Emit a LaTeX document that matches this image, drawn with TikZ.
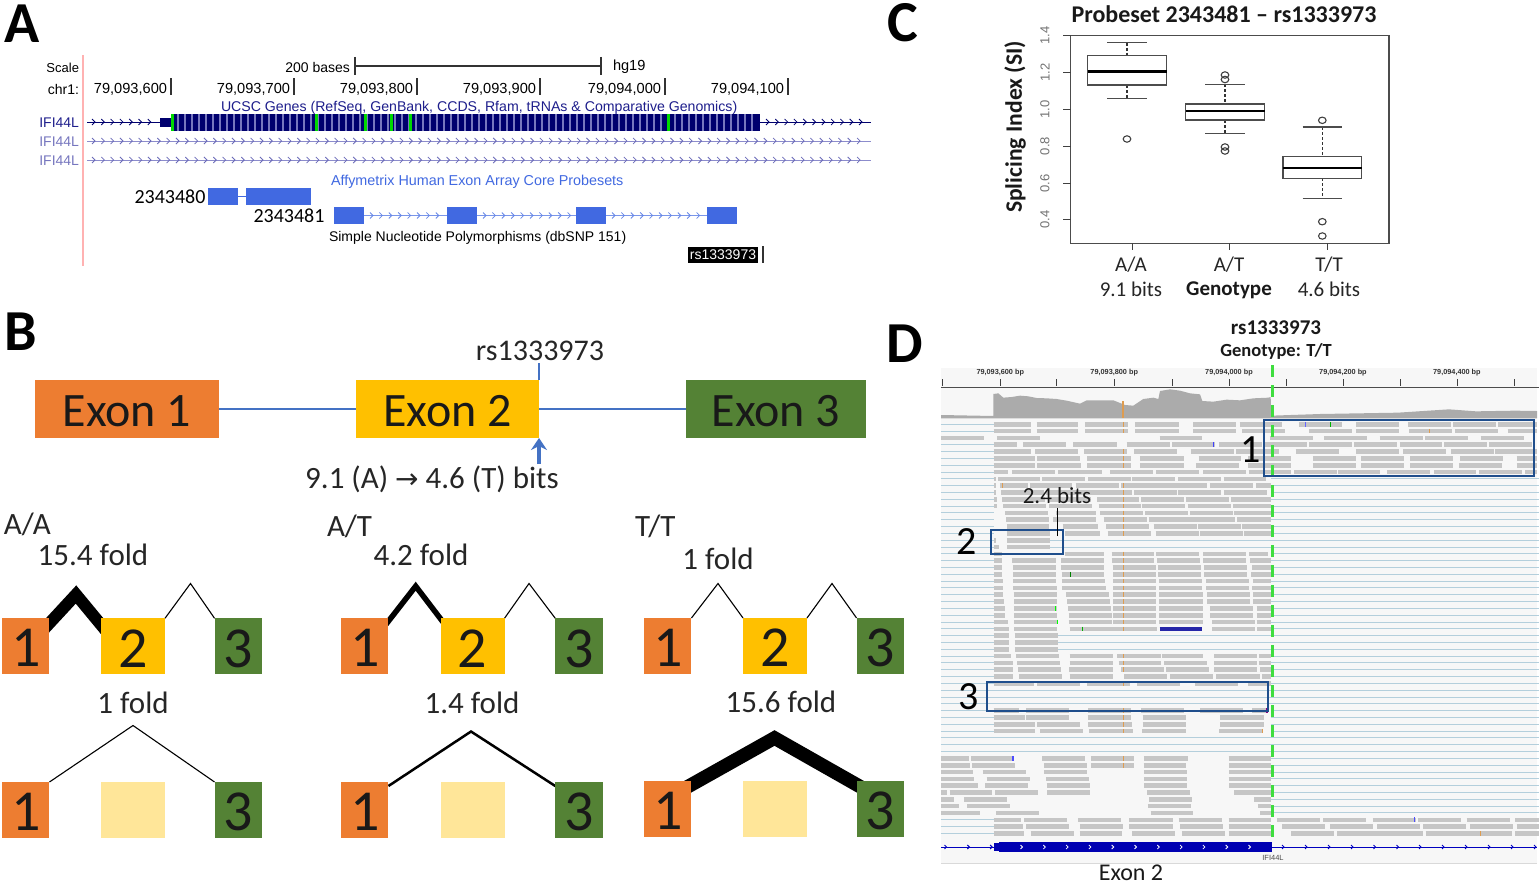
\documentclass[tikz,border=0pt]{standalone}
\usepackage{fontspec}
\setmainfont{Carlito}
\newfontfamily\arl{Liberation Sans}
\newfontfamily\djv{DejaVu Sans}
\usetikzlibrary{backgrounds,calc,arrows.meta}
\definecolor{oex}{HTML}{ED7D31}
\definecolor{yex}{HTML}{FFC000}
\definecolor{gex}{HTML}{548235}
\definecolor{lyex}{HTML}{FFE699}
\definecolor{lnblue}{HTML}{4472C4}
\definecolor{navyg}{HTML}{00006E}
\definecolor{navyt}{HTML}{1E1E8C}
\definecolor{lilac}{HTML}{8C8CCC}
\definecolor{royal}{HTML}{4169E1}
\definecolor{boxb}{HTML}{1F4E8C}
\definecolor{readg}{HTML}{C6C6C6}
\definecolor{igvl}{HTML}{B4CFDC}
\definecolor{grn}{HTML}{3FDD3F}
\definecolor{org}{HTML}{DE9C50}
\newcommand{\fs}[1]{\fontsize{#1}{#1}\selectfont}
\newcommand{\rd}[2]{\foreach \a/\b in {#2}{\draw[readl] (\a,{342.9+20.46*#1}) -- (\b,{342.9+20.46*#1});}}
\newcommand{\lft}[1]{\foreach \r in {#1}{\draw[igvline] (28,{342.9+20.46*\r}) -- (163,{342.9+20.46*\r});}}
\newcommand{\rgt}[1]{\foreach \r in {#1}{\draw[igvline] (873,{342.9+20.46*\r}) -- (1563,{342.9+20.46*\r});}}
\newcommand{\mk}[4]{\draw[line width=#4,draw=#3] (#1,{342.9+20.46*#2-7}) -- (#1,{342.9+20.46*#2+7});}
\newcommand{\dn}[1]{\raisebox{-2pt}[\height][0pt]{#1}}
\tikzset{
  lbl/.style={inner sep=0pt,outer sep=0pt,text=black},
  plet/.style={lbl,font=\bfseries\fs{58}},
  ucsc/.style={lbl,font=\arl\fs{14}},
  ex/.style={inner sep=0pt,outer sep=0pt,minimum height=58pt,font=\fs{48},text=black!90},
  sq/.style={inner sep=0pt,outer sep=0pt,minimum height=56pt,font=\fs{58},text=black!90},
  t30/.style={lbl,font=\fs{31},text=black!85},
  t21/.style={lbl,font=\fs{21},text=black!85},
  chev/.style={line width=.8pt},
  probe/.style={fill=royal,draw=none,inner sep=0pt,outer sep=0pt,minimum height=17pt},
  peak/.style={draw=black,miter limit=10},
  readl/.style={line width=4.6pt,draw=readg},
  igvline/.style={line width=1pt,draw=igvl},
  hl/.style={draw=boxb,line width=2.8pt,fill=none},
  rbox/.style={draw=black!70,line width=1.1pt},
  rmed/.style={draw=black,line width=2.4pt},
  rwh/.style={draw=black!70,line width=1.1pt},
  rdash/.style={draw=black!80,line width=1.1pt,dash pattern=on 3pt off 2pt},
  rout/.style={draw=black!75,line width=1.1pt,fill=none},
  tickl/.style={draw=black!75,line width=.9pt},
  ylab/.style={lbl,font=\arl\fs{13},text=black!55,rotate=90},
}
\begin{document}
\begin{tikzpicture}[x=1pt,y=-1pt]
\useasboundingbox (0,0) rectangle (1539,883);
\begin{scope}[on background layer]
\fill[white] (0,0) rectangle (1539,883);
\end{scope}
%%%% panel letters
\node[plet] (la) at (22,23.5) {A};
\node[plet] (lb) at (21,332) {B};
\node[plet] (lc) at (903,22.5) {C};
\node[plet] (ld) at (905,343.5) {D};
%%%% PANEL A
\fill[red!30!white] (82,55) rectangle (84,266);
\node[ucsc,font=\arl\fs{13},anchor=east] (scale) at (79,68) {Scale};
\node[ucsc,anchor=east] (chr) at (79,89) {chr1:};
\node[ucsc,anchor=east] (bases) at (350,67) {200 bases};
\node[ucsc,font=\arl\fs{14.6},anchor=west] (hg) at (613,67) {hg19};
\coordinate (sb1) at (355,66); \coordinate (sb2) at (601,66);
\draw[black!80,line width=1.2pt] (sb1) -- (sb2);
\draw[black!80,line width=1.2pt] (355,57) -- (355,75) (601,57) -- (601,75);
\tikzset{ptxt/.style={ucsc,font=\arl\fs{14.6},anchor=east}}
\node[ptxt] (p1) at (167,89) {79,093,600};
\node[ptxt] (p2) at (290,89) {79,093,700};
\node[ptxt] (p3) at (413,89) {79,093,800};
\node[ptxt] (p4) at (536,89) {79,093,900};
\node[ptxt] (p5) at (661,89) {79,094,000};
\node[ptxt] (p6) at (784,89) {79,094,100};
\foreach \t in {171,294,417,540,665,788}{\draw[black!80,line width=1.2pt] (\t,78) -- (\t,95);}
\node[ucsc,font=\arl\fs{14.14},text=navyt,anchor=west] (ucscg) at (221,107.5) {UCSC Genes (RefSeq, GenBank, CCDS, Rfam, tRNAs \& Comparative Genomics)};
\node[ucsc,text=navyt,anchor=east] (i1) at (79,123) {IFI44L};
\node[ucsc,text=lilac!80!navyt,anchor=east] (i2) at (79,142) {IFI44L};
\node[ucsc,text=lilac!80!navyt,anchor=east] (i3) at (79,161) {IFI44L};
\draw[navyg,line width=1pt] (87,122) -- (871,122);
\foreach \x in {94,103.3,...,158}{\draw[navyg,chev] (\x-2,119) -- (\x+1,122) -- (\x-2,125);}
\foreach \x in {768,777.3,...,868}{\draw[navyg,chev] (\x-2,119) -- (\x+1,122) -- (\x-2,125);}
\foreach \y in {141,160}{
  \draw[lilac,line width=1pt] (87,\y) -- (871,\y);
  \foreach \x in {94,103.33,...,868}{\draw[lilac!70!navyt,chev] (\x-2,\y-3) -- (\x+1,\y) -- (\x-2,\y+3);}
}
\fill[navyg] (160,118) rectangle (172,127);
\fill[navyg] (172,113.5) rectangle (760,131);
\foreach \x in {178,185,...,756}{\fill[lilac!85!navyg] (\x-1,113.5) rectangle (\x+1,131);}
\foreach \x in {172.5,316,365,391,410,668.5}{\fill[green!85!black] (\x-1.5,113.5) rectangle (\x+1.5,131);}
\node[ucsc,font=\arl\fs{14.35},text=royal,anchor=west] (affy) at (331,182) {Affymetrix Human Exon Array Core Probesets};
\node[probe,minimum width=30pt] (pa) at (223,196.5) {};
\node[probe,minimum width=65pt] (pb) at (278.5,196.5) {};
\draw[royal,line width=1pt] (pa) -- (pb);
\node[probe,minimum width=30pt] (pc) at (349,215.5) {};
\node[probe,minimum width=30pt] (pd) at (462,215.5) {};
\node[probe,minimum width=30pt] (pe) at (591,215.5) {};
\node[probe,minimum width=30pt] (pf) at (722,215.5) {};
\draw[royal!70,line width=1pt] (pc) -- (pd);
\draw[royal!70,line width=1pt] (pd) -- (pe);
\draw[royal!70,line width=1pt] (pe) -- (pf);
\foreach \x in {372,381.4,...,445,485,494.4,...,574,614,623.4,...,705}{\draw[royal!80,chev] (\x-2,212.5) -- (\x+1,215.5) -- (\x-2,218.5);}
\node[lbl,font=\fs{20}] (n80) at (170,197) {2343480};
\node[lbl,font=\fs{20}] (n81) at (289,216) {2343481};
\node[ucsc,anchor=west] (snp) at (329,238) {Simple Nucleotide Polymorphisms (dbSNP 151)};
\node[fill=black,text=white,font=\arl\fs{14},inner sep=0pt,minimum width=70pt,minimum height=16pt] (rsb) at (723,254.5) {rs1333973};
\draw[black!80,line width=1.2pt] (763,246) -- (763,263);
%%%% PANEL B
\node[ex,fill=oex,minimum width=184pt] (ex1) at (127,409) {\dn{Exon 1}};
\node[ex,fill=yex,minimum width=183pt] (ex2) at (447.5,409) {\dn{Exon 2}};
\node[ex,fill=gex,minimum width=180pt] (ex3) at (776,409) {\dn{Exon 3}};
\draw[lnblue,line width=1.2pt] (ex1) -- (ex2);
\draw[lnblue,line width=1.2pt] (ex2) -- (ex3);
\node[t30,font=\fs{30}] (rsB) at (540,351) {rs1333973};
\coordinate (rstop) at (539,363);
\draw[lnblue,line width=1.2pt] (rstop) -- (ex2.north east);
\node[t30] (bits) at (432,479) {9.1 (A) {\djv\fs{28}→} 4.6 (T) bits};
\coordinate (arb) at (539,464);
\draw[-{Stealth[length=12pt,width=16pt]},lnblue,line width=3.4pt] (arb) -- (ex2.south east);
% small squares
\foreach \g/\ya/\yb/\xa/\xb/\xc in {a/646.3/810/25.7/133/238.3, b/646.3/810/364.7/472.5/579, c/646/809/667.7/775/880.3}{
  \node[sq,fill=oex,minimum width=47.5pt] (\g1) at (\xa,\ya) {\dn{1}};
  \node[sq,fill=yex,minimum width=64pt] (\g2) at (\xb,\ya) {\dn{2}};
  \node[sq,fill=gex,minimum width=47.5pt] (\g3) at (\xc,\ya) {\dn{3}};
  \node[sq,fill=oex,minimum width=47.5pt] (\g4) at (\xa,\yb) {\dn{1}};
  \node[sq,fill=lyex,minimum width=64pt] (\g5) at (\xb,\yb) {};
  \node[sq,fill=gex,minimum width=47.5pt] (\g6) at (\xc,\yb) {\dn{3}};
}
\begin{scope}[on background layer]
\coordinate (qa1) at (76,594.5);  \coordinate (qa2) at (190.5,583.5); \coordinate (qa3) at (133,725.5);
\coordinate (qb1) at (415.7,586.2); \coordinate (qb2) at (529,583.5); \coordinate (qb3) at (471,731.5);
\coordinate (qc1) at (718,583.5); \coordinate (qc2) at (832,583.5); \coordinate (qc3) at (774.5,738);
\draw[peak,line width=12pt] ($(a1.north east)+(-6,11.4)$) -- (qa1) -- ($(a2.north west)+(6,13.7)$);
\draw[peak,line width=1.1pt] (a2.north east) -- (qa2) -- (a3.north west);
\draw[peak,line width=1.1pt] (a4.north east) -- (qa3) -- (a6.north west);
\draw[peak,line width=5.5pt] ($(b1.north east)+(-4,8)$) -- (qb1) -- ($(b2.north west)+(3.5,5)$);
\draw[peak,line width=1.1pt] (b2.north east) -- (qb2) -- (b3.north west);
\draw[peak,line width=2.5pt] ($(b4.north east)+(0,4)$) -- (qb3) -- ($(b6.north west)+(0,4)$);
\draw[peak,line width=1.1pt] (c1.north east) -- (qc1) -- (c2.north west);
\draw[peak,line width=1.1pt] (c2.north east) -- (qc2) -- (c3.north west);
\draw[peak,line width=13.6pt] ($(c4.north east)+(-6,7)$) -- (qc3) -- ($(c6.north west)+(6,7)$);
\end{scope}
\node[t30,anchor=west] (ga) at (4,524) {A/A};
\node[t30] (fa1) at (93,555) {15.4 fold};
\node[t30,anchor=west] (gb) at (327,526) {A/T};
\node[t30] (fb1) at (421,555) {4.2 fold};
\node[t30,anchor=west] (gc) at (635,526) {T/T};
\node[t30] (fc1) at (718,559) {1 fold};
\node[t30] (fa2) at (133,703) {1 fold};
\node[t30] (fb2) at (472,703) {1.4 fold};
\node[t30] (fc2) at (781,702) {15.6 fold};
%%%% PANEL C
\node[lbl,font=\bfseries\fs{24},text=black!90] (ct) at (1224,14) {Probeset 2343481 – rs1333973};
\node[lbl,font=\bfseries\fs{23.6},rotate=90,text=black!90] (cy) at (1015,127) {Splicing Index (SI)};
\draw[black!70,line width=1.1pt] (1070.7,35.7) rectangle (1389,243.3);
\foreach \yy/\t in {35.7/1.4,72.3/1.2,109.7/1.0,146/0.8,183.3/0.6,219.7/0.4}{
  \draw[tickl] (1063,\yy) -- (1070.7,\yy);
  \node[ylab] at (1045,\yy) {\t};
}
\foreach \xx in {1132.3,1229.3,1327.3}{\draw[tickl] (\xx,243.3) -- (\xx,250);}
% boxes
\foreach \xa/\xb/\ya/\yb/\m/\wt/\wb/\ca/\cb/\xc in {
 1087.7/1166.7/55.7/85/71.7/42.7/98.3/1107/1147/1127,
 1185.7/1264.7/104/120/111/84.3/133.3/1205/1245/1225,
 1283/1361.7/156.7/178.3/167.7/127/198.7/1302.7/1342/1322.3}{
  \draw[rdash] (\xc,\wt) -- (\xc,\ya);
  \draw[rdash] (\xc,\yb) -- (\xc,\wb);
  \draw[rwh] (\ca,\wt) -- (\cb,\wt);
  \draw[rwh] (\ca,\wb) -- (\cb,\wb);
  \draw[rbox] (\xa,\ya) rectangle (\xb,\yb);
  \draw[rmed] (\xa,\m) -- (\xb,\m);
}
\foreach \xc/\yc in {1127/139,1225/75,1225/79.5,1225/147,1225/151,1322.3/120.3,1322.3/221.7,1322.3/236}{
  \draw[rout] (\xc,\yc) ellipse [x radius=3.8pt,y radius=3.2pt];
}
\node[t21] (c1a) at (1131,265) {A/A};
\node[t21] (c1b) at (1131,289) {9.1 bits};
\node[t21] (c2a) at (1229,265) {A/T};
\node[t21,font=\bfseries\fs{21},text=black!90] (c2b) at (1229,290.5) {Genotype};
\node[t21] (c3a) at (1329,265) {T/T};
\node[t21] (c3b) at (1329,289) {4.6 bits};
%%%% PANEL D
\node[lbl,font=\bfseries\fs{21},text=black!90] (dr) at (1276,328) {rs1333973};
\node[lbl,font=\bfseries\fs{18.5},text=black!90] (dg) at (1276,351.5) {Genotype: T/T};
\fill[black!3] (941,368) rectangle (1537,863);
\draw[black!15,line width=.8pt] (941,863) -- (1537,863);
\begin{scope}[shift={(940,385)},x=0.33333pt,y=-0.33333pt]
 \fill[black!33] (3,100) -- (3,90) -- (160,93) -- (160,27) -- (175,25) -- (190,38) -- (215,36) -- (240,32) -- (265,34) -- (290,39) -- (320,40) -- (350,42) -- (380,47) -- (420,56) -- (440,46) -- (480,46) -- (520,46) -- (555,60) -- (580,62) -- (610,42) -- (640,38) -- (655,42) -- (660,18) -- (690,13) -- (720,17) -- (750,25) -- (780,28) -- (787,48) -- (820,50) -- (860,44) -- (900,46) -- (940,40) -- (985,38) -- (992,36) -- (994,92) -- (1140,87) -- (1257,85) -- (1374,83) -- (1527,73) -- (1608,79) -- (1725,77) -- (1791,78) -- (1791,100) -- cycle;
 \draw[org,line width=1.5pt] (549,48) -- (549,98);
\end{scope}
\begin{scope}[shift={(930,310)},x=0.3903pt,y=-0.3333pt]
 \draw[black!70,line width=1.2pt] (28,232) -- (1563,232);
 \foreach \x in {33,180,325,472,620,766,912,1058,1204,1350,1497}{\draw[black!75,line width=.8pt] (\x,208) -- (\x,228);}
 \foreach \x/\t in {180/{79,093,600 bp},472/{79,093,800 bp},766/{79,094,000 bp},1058/{79,094,200 bp},1350/{79,094,400 bp}}{
   \node[lbl,font=\arl\bfseries\fs{7.3},text=black!80] at (\x,188) {\t};
 }
 % background lines
 \lft{0,1,3,4,...,48,58,59,60}
 \rgt{8,9,...,57}
 \foreach \r in {17,18}{\draw[igvline] (307,{342.9+20.46*\r}) -- (873,{342.9+20.46*\r});}
 \foreach \r in {31,32,33}{\draw[igvline] (327,{342.9+20.46*\r}) -- (873,{342.9+20.46*\r});}
 \foreach \r in {39,40,41,46,47,48}{\draw[igvline] (163,{342.9+20.46*\r}) -- (873,{342.9+20.46*\r});}
 % reads
 \rd{0}{163/258,273/380,397/507,525/637,675/785,793/903,945/1055,1091/1201,1224/1335,1340/1450,1455/1555}
 \rd{1}{163/258,273/380,397/507,525/637,675/785,800/910,972/1082,1091/1201,1228/1338,1345/1455,1480/1555}
 \rd{2}{28/138,171/282,588/698,870/980,1010/1120,1152/1262,1268/1378,1411/1521}
 \rd{3}{163/223,238/349,367/478,504/614,620/730,740/850,858/967,972/1082,1086/1196,1203/1313,1318/1428,1432/1542}
 \rd{4}{163/258,270/380,395/505,523/633,668/778,785/895,937/1047,1091/1201,1213/1323,1334/1444,1448/1555}
 \rd{5}{163/268,275/385,403/515,538/650,688/798,815/925,981/1092,1105/1215,1231/1341,1358/1468,1503/1555}
 \rd{6}{163/268,275/387,403/515,538/650,681/791,815/925,981/1092,1105/1215,1231/1341,1355/1465,1503/1555}
 \rd{7}{163/200,210/320,328/440,462/572,580/690,700/810,816/926,933/1043,1045/1152,1172/1282,1291/1400,1407/1517,1525/1555}
 \rd{8}{163/168,175/283,288/398,405/515,518/628,636/746,752/862}
 \rd{9}{165/170,180/250,255/365,373/483,490/600,600/710,717/827,835/873}
 \rd{10}{165/170,182/292,298/408,408/518,523/633,636/746,753/863}
 \rd{11}{165/172,185/295,302/412,428/535,540/650,655/765,770/873}
 \rd{12}{165/172,188/298,305/415,432/540,543/653,660/770,777/873}
 \rd{13}{192/302,322/424,436/546,552/660,665/775,780/873}
 \rd{14}{195/305,315/425,445/555,560/670,672/782,787/873}
 \rd{15}{197/305,340/430,452/562,573/683,686/796,800/873}
 \rd{16}{197/307,345/435,455/565,578/688,692/802,805/873}
 \rd{17}{165/170,197/307}
 \rd{18}{165/178,197/307}
 \rd{19}{165/185,345/445,465/575,580/690,700/810,818/865}
 \rd{20}{163/185,210/322,335/447,465/575,582/692,700/810,820/873}
 \rd{21}{163/185,212/322,335/447,468/578,584/694,702/812,825/873}
 \rd{22}{163/185,212/322,337/447,470/580,585/695,703/813,823/873}
 \rd{23}{163/187,213/323,338/448,470/580,587/697,708/818,827/873}
 \rd{24}{163/187,213/325,338/450,470/580,587/697,708/818,825/873}
 \rd{25}{163/187,214/325,348/458,470/580,587/699,710/820,827/873}
 \rd{26}{163/190,216/326,352/462,470/580,587/699,710/820,827/873}
 \rd{27}{163/192,215/325,353/463,470/580,587/699,717/828,837/873}
 \rd{28}{163/192,215/325,355/465,470/580,587/699,717/828,837/873}
 \rd{29}{163/200,215/325,355/465,470/580,587/699,723/833,837/873}
 \rd{30}{163/203,216/326,358/468,470/582,723/833,838/873}
 \rd{31}{163/203,217/327}
 \rd{32}{163/203,217/327}
 \rd{33}{163/203,217/327}
 \rd{34}{163/207,220/331,358/469,480/592,594/700,728/838,842/873}
 \rd{35}{163/213,223/333,358/469,483/593,600/710,728/838,842/873}
 \rd{36}{163/213,226/336,357/468,490/600,605/716,728/838,846/873}
 \rd{37}{163/213,229/339,358/469,498/608,615/725,733/845,850/873}
 \rd{38}{163/267,273/383,403/512,530/640,680/790,815/873}
 \rd{42}{163/227,247/357,405/515,541/651,692/802,825/866}
 \rd{43}{163/243,247/357,404/515,545/656,744/855}
 \rd{44}{163/268,275/385,405/518,545/656,744/855}
 \rd{45}{163/268,282/392,408/520,544/655,741/851}
 \rd{49}{28/100,105/215,288/398,412/523,548/660,765/873}
 \rd{50}{28/102,107/217,292/402,412/523,547/657,767/873}
 \rd{51}{28/110,135/245,292/402,548/659,767/873}
 \rd{52}{28/113,145/255,297/407,548/659,765/873}
 \rd{53}{28/123,141/251,299/409,548/659,767/873}
 \rd{54}{28/43,50/160,167/277,300/409,556/667,779/873}
 \rd{55}{28/62,87/198,561/671,831/873}
 \rd{56}{28/75,95/205,558/668,840/873}
 \rd{57}{28/129,169/280,565/675,846/873}
 \rd{58}{163/232,242/352,379/490,511/622,637/747,765/873,889/998,1007/1117,1134/1244,1250/1360,1375/1486,1499/1563}
 \rd{59}{163/238,247/357,384/494,511/622,641/751,765/873,903/1013,1026/1136,1146/1256,1264/1374,1384/1493,1503/1563}
 \rd{60}{163/242,258/368,383/493,518/628,645/755,765/873,925/1035,1043/1263,1270/1380,1382/1491,1499/1563}
 % dark blue read
 \draw[line width=4.6pt,draw=blue!60!black!85] (588,{342.9+20.46*30}) -- (698,{342.9+20.46*30});
 % mismatches
 \foreach \r in {0,1,4,5,6,9,10,11,12,13,14,15,16,19,20,21,22,23,24,25,26,27,28,29,30,34,35,36,38,42,43,44,45,49,50}{\mk{496}{\r}{org}{1.5pt}}
 \mk{726}{3}{blue!75}{1.2pt} \mk{962}{0}{blue!60}{.8pt} \mk{1027}{0}{green!70!black}{.8pt}
 \mk{185}{9}{org}{1.2pt} \mk{360}{22}{green!50!black}{.8pt} \mk{1280}{1}{org}{.8pt}
 \mk{213}{49}{blue!70}{1.5pt} \mk{1241}{58}{blue!70}{1.5pt} \mk{322}{27}{green}{1.5pt} \mk{326}{29}{green}{1.5pt}
 \mk{391}{30}{green!70!black}{.8pt} \mk{864}{42}{violet}{2pt} \mk{851}{45}{org}{1.2pt} \mk{1410}{60}{org}{1pt}
\end{scope}
% gene track D, in picture pixels
\coordinate (gl) at (941,847); \coordinate (gr) at (1537,847);
\draw[blue!75!black,line width=1pt] (gl) -- (gr);
\fill[blue!70!black] (994,842.7) rectangle (999,851);
\fill[blue!70!black] (999,841.7) rectangle (1272,851.7);
\foreach \x in {1021.5,1044.3,...,1255}{\draw[white,line width=.8pt] (\x-1,845) -- (\x+1,847) -- (\x-1,849);}
\foreach \x in {945.5,968.3,991.1,1283,1306,1329,1352,1374.5,1397.5,1420,1443,1466,1489,1512,1535}{\draw[blue!75!black,line width=1pt] (\x-1,845) -- (\x+1,847) -- (\x-1,849);}
\node[lbl,font=\arl\fs{7.5},text=black!70] (gn) at (1273,858) {IFI44L};
\coordinate (gt) at (1272,365); \coordinate (gb) at (1272,840);
\draw[grn,line width=3pt,dash pattern=on 12pt off 8pt] (gt) -- (gb);
% highlight boxes
\node[hl,minimum width=270pt,minimum height=56pt,inner sep=0pt] (h1) at (1399,448) {};
\node[hl,minimum width=72pt,minimum height=24pt,inner sep=0pt] (h2) at (1027,542) {};
\node[hl,minimum width=281pt,minimum height=29pt,inner sep=0pt] (h3) at (1127.5,696.5) {};
\node[lbl,font=\fs{40},text=black] (n1) at (1251,450) {1};
\node[lbl,font=\fs{40},text=black] (n2) at (967,542) {2};
\node[lbl,font=\fs{40},text=black] (n3) at (969,697) {3};
\node[lbl,font=\fs{23},text=black!90] (bt) at (1057,496) {2.4 bits};
\coordinate (bt2) at (1057.5,536); \coordinate (bt3) at (1057.5,508);
\draw[black,line width=1.2pt] (bt2) -- (bt3);
\node[lbl,font=\fs{24},text=black!90] (exd) at (1131,872.5) {Exon 2};
\end{tikzpicture}
\end{document}
